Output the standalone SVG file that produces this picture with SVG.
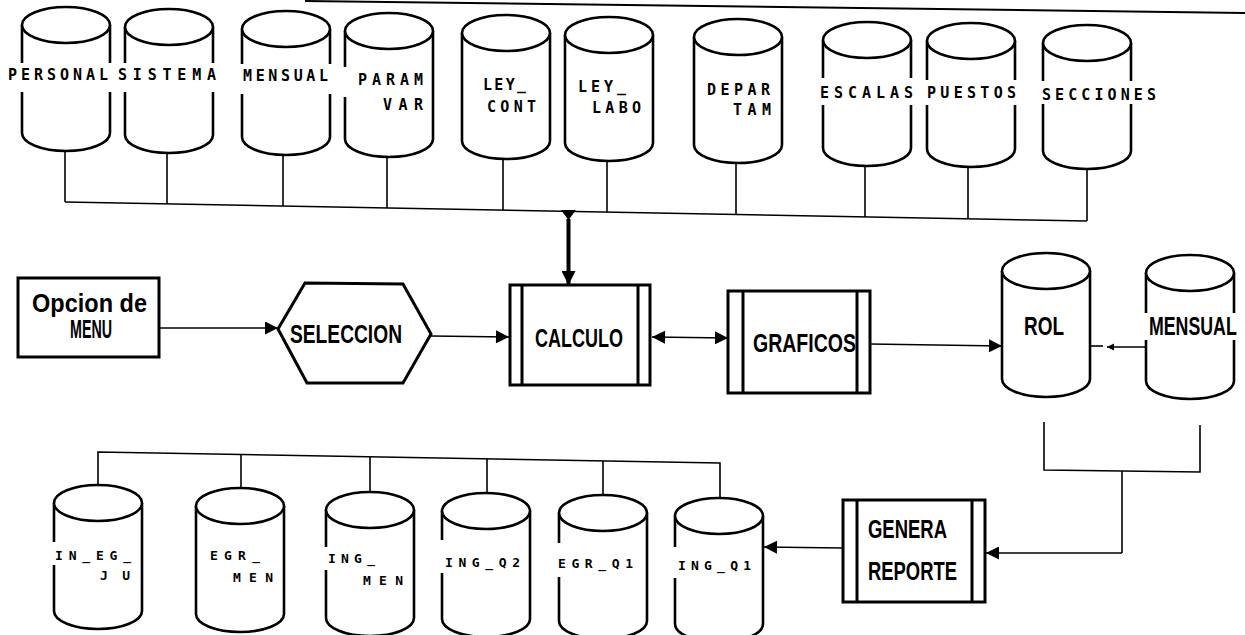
<svg xmlns="http://www.w3.org/2000/svg" width="1245" height="635" viewBox="0 0 1245 635">
<style>
.proc{fill:#fff;stroke:#000;stroke-width:3}
.bar{stroke:#000;stroke-width:3}
.ln{fill:none;stroke:#000;stroke-width:1.6}
.gap{fill:#fff;stroke:none}
.t1{font-family:"DejaVu Sans Mono","Liberation Mono",monospace;font-weight:bold;font-size:15px;fill:#000}
.t2{font-family:"DejaVu Sans Mono","Liberation Mono",monospace;font-weight:bold;font-size:13px;fill:#000}
.tb{font-family:"Liberation Sans",Arial,sans-serif;font-weight:bold;font-size:25px;fill:#000}
</style>
<defs>
<g id="cyl">
<path d="M0,18 V126 A44,18 0 0 0 88,126 V18" fill="#fff" stroke="#000" stroke-width="2.6"/>
<ellipse cx="44" cy="18" rx="44" ry="18" fill="#fff" stroke="#000" stroke-width="2.6"/>
</g>
<marker id="ah" viewBox="0 0 10 10" refX="10" refY="5" markerWidth="15" markerHeight="13" markerUnits="userSpaceOnUse" orient="auto-start-reverse"><path d="M0,0 L10,5 L0,10 Z" fill="#000"/></marker>
<marker id="ahs" viewBox="0 0 10 10" refX="10" refY="5" markerWidth="7" markerHeight="12" markerUnits="userSpaceOnUse" orient="auto-start-reverse"><path d="M0,0 L10,5 L0,10 Z" fill="#000"/></marker>
<marker id="aht" viewBox="0 0 10 10" refX="10" refY="5" markerWidth="22" markerHeight="14" markerUnits="userSpaceOnUse" orient="auto"><path d="M0,0 L10,5 L0,10 Z" fill="#000"/></marker>
</defs>
<rect width="1245" height="635" fill="#fff"/>
<line x1="305" y1="1" x2="1245" y2="13" stroke="#000" stroke-width="2"/>

<g id="connectors">
<polyline class="ln" points="65,202 1087,221"/>
<line class="ln" x1="65" y1="151" x2="65" y2="202"/>
<line class="ln" x1="167" y1="153" x2="167" y2="204"/>
<line class="ln" x1="283" y1="155" x2="283" y2="206"/>
<line class="ln" x1="387" y1="157" x2="387" y2="208"/>
<line class="ln" x1="503" y1="159" x2="503" y2="210"/>
<line class="ln" x1="607" y1="161" x2="607" y2="212"/>
<line class="ln" x1="736" y1="163" x2="736" y2="215"/>
<line class="ln" x1="865" y1="166" x2="865" y2="217"/>
<line class="ln" x1="968" y1="167" x2="968" y2="219"/>
<line class="ln" x1="1087" y1="169" x2="1087" y2="221"/>
<path d="M561,210 L576,210 L568.5,220 Z" fill="#000"/>
<line x1="568.5" y1="219" x2="568.5" y2="285" stroke="#000" stroke-width="4" marker-end="url(#aht)"/>
<line class="ln" x1="159" y1="328" x2="278" y2="328" marker-end="url(#ah)"/>
<line class="ln" x1="431" y1="336" x2="509" y2="337" marker-end="url(#ah)"/>
<line class="ln" x1="652" y1="337" x2="728" y2="338" marker-start="url(#ah)" marker-end="url(#ah)"/>
<line class="ln" x1="870" y1="344" x2="1002" y2="346" marker-end="url(#ah)"/>
<line class="ln" x1="1090" y1="346" x2="1103" y2="346"/>
<line class="ln" x1="1145" y1="347" x2="1107" y2="347" marker-end="url(#ahs)"/>
<polyline class="ln" points="1044,422 1044,470 1200,472 1200,425"/>
<line class="ln" x1="1122" y1="471" x2="1122" y2="553"/>
<line class="ln" x1="1122" y1="553" x2="986" y2="553" marker-end="url(#ah)"/>
<line class="ln" x1="843" y1="548" x2="764" y2="547" marker-end="url(#ah)"/>
<polyline class="ln" points="98,485 98,452 720,463 720,498"/>
<line class="ln" x1="241" y1="455" x2="241" y2="488"/>
<line class="ln" x1="370" y1="457" x2="370" y2="492"/>
<line class="ln" x1="487" y1="459" x2="487" y2="493"/>
<line class="ln" x1="603" y1="461" x2="603" y2="495"/>
</g>

<g id="personal"><use href="#cyl" x="22" y="7"/><rect class="gap" x="5" y="63" width="108" height="29"/><text class="t1" x="8" y="80" textLength="100">PERSONAL</text></g>
<g id="sistema"><use href="#cyl" x="125" y="9"/><rect class="gap" x="115" y="63" width="101" height="29"/><text class="t1" x="118" y="80" textLength="98">SISTEMA</text></g>
<g id="mensual1"><use href="#cyl" x="242" y="11"/><rect class="gap" x="239" y="64" width="94" height="30"/><text class="t1" x="243" y="81" textLength="85">MENSUAL</text></g>
<g id="paramvar"><use href="#cyl" x="345" y="13"/><rect class="gap" x="342" y="67" width="82" height="30"/><text class="t1" x="358" y="85" textLength="65">PARAM</text><text class="t1" x="383" y="110" textLength="40">VAR</text></g>
<g id="leycont"><use href="#cyl" x="462" y="15"/><text class="t1" x="483" y="90" textLength="43">LEY_</text><text class="t1" x="487" y="112" textLength="49">CONT</text></g>
<g id="leylabo"><use href="#cyl" x="565" y="17"/><text class="t1" x="578" y="92" textLength="48">LEY_</text><text class="t1" x="592" y="113" textLength="49">LABO</text></g>
<g id="departam"><use href="#cyl" x="694" y="19"/><text class="t1" x="707" y="95" textLength="63">DEPAR</text><text class="t1" x="733" y="115" textLength="38">TAM</text></g>
<g id="escalas"><use href="#cyl" x="823" y="22"/><rect class="gap" x="818" y="78" width="97" height="27"/><text class="t1" x="820" y="98" textLength="93">ESCALAS</text></g>
<g id="puestos"><use href="#cyl" x="927" y="23"/><rect class="gap" x="924" y="80" width="94" height="25"/><text class="t1" x="927" y="98" textLength="89">PUESTOS</text></g>
<g id="secciones"><use href="#cyl" x="1043" y="25"/><rect class="gap" x="1039" y="81" width="117" height="23"/><text class="t1" x="1042" y="100" textLength="114">SECCIONES</text></g>

<g id="opcion"><rect class="proc" x="18" y="278" width="141" height="79"/><text class="tb" x="32" y="312" textLength="115" lengthAdjust="spacingAndGlyphs" font-size="20">Opcion de</text><text class="tb" x="70" y="338" textLength="42" lengthAdjust="spacingAndGlyphs" font-size="19">MENU</text></g>
<g id="seleccion"><polygon class="proc" points="278,329 305,283 403,284 431,334 403,383 307,383"/><text class="tb" x="290" y="343" textLength="112" lengthAdjust="spacingAndGlyphs" font-size="28">SELECCION</text></g>
<g id="calculo"><rect class="proc" x="510" y="285" width="140" height="100"/><line class="bar" x1="522" y1="285" x2="522" y2="385"/><line class="bar" x1="638" y1="285" x2="638" y2="385"/><text class="tb" x="535" y="347" textLength="88" lengthAdjust="spacingAndGlyphs" font-size="26">CALCULO</text></g>
<g id="graficos"><rect class="proc" x="728" y="291" width="142" height="102"/><line class="bar" x1="743" y1="291" x2="743" y2="393"/><line class="bar" x1="857" y1="291" x2="857" y2="393"/><text class="tb" x="753" y="352" textLength="103" lengthAdjust="spacingAndGlyphs" font-size="27">GRAFICOS</text></g>
<g id="rol"><use href="#cyl" x="1002" y="253"/><text class="tb" x="1024" y="335" textLength="40" lengthAdjust="spacingAndGlyphs" font-size="24">ROL</text></g>
<g id="mensual2"><use href="#cyl" x="1146" y="255"/><rect class="gap" x="1142" y="313" width="96" height="27"/><text class="tb" transform="translate(1149,335) scale(0.71,1)" x="0" y="0" font-size="23">MENSUAL</text></g>
<g id="genera"><rect class="proc" x="843" y="500" width="142" height="102"/><line class="bar" x1="857" y1="500" x2="857" y2="602"/><line class="bar" x1="972" y1="500" x2="972" y2="602"/><text class="tb" x="868" y="538" textLength="79" lengthAdjust="spacingAndGlyphs" font-size="23">GENERA</text><text class="tb" x="868" y="580" textLength="89" lengthAdjust="spacingAndGlyphs" font-size="23">REPORTE</text></g>

<g id="inegju"><use href="#cyl" x="54" y="485"/><rect class="gap" x="50" y="542" width="82" height="23"/><text class="t2" x="55" y="560" textLength="76">IN_EG_</text><text class="t2" x="100" y="580" textLength="30">JU</text></g>
<g id="egrmen"><use href="#cyl" x="196" y="488"/><text class="t2" x="210" y="560" textLength="50">EGR_</text><text class="t2" x="233" y="582" textLength="40">MEN</text></g>
<g id="ingmen"><use href="#cyl" x="326" y="492"/><rect class="gap" x="322" y="547" width="54" height="23"/><text class="t2" x="328" y="563" textLength="47">ING_</text><text class="t2" x="363" y="585" textLength="40">MEN</text></g>
<g id="ingq2"><use href="#cyl" x="442" y="493"/><rect class="gap" x="439" y="540" width="81" height="33"/><text class="t2" x="445" y="567" textLength="75">ING_Q2</text></g>
<g id="egrq1"><use href="#cyl" x="559" y="495"/><rect class="gap" x="555" y="543" width="78" height="34"/><text class="t2" x="558" y="568" textLength="75">EGR_Q1</text></g>
<g id="ingq1"><use href="#cyl" x="675" y="498"/><rect class="gap" x="672" y="547" width="80" height="31"/><text class="t2" x="678" y="570" textLength="73">ING_Q1</text></g>
</svg>
